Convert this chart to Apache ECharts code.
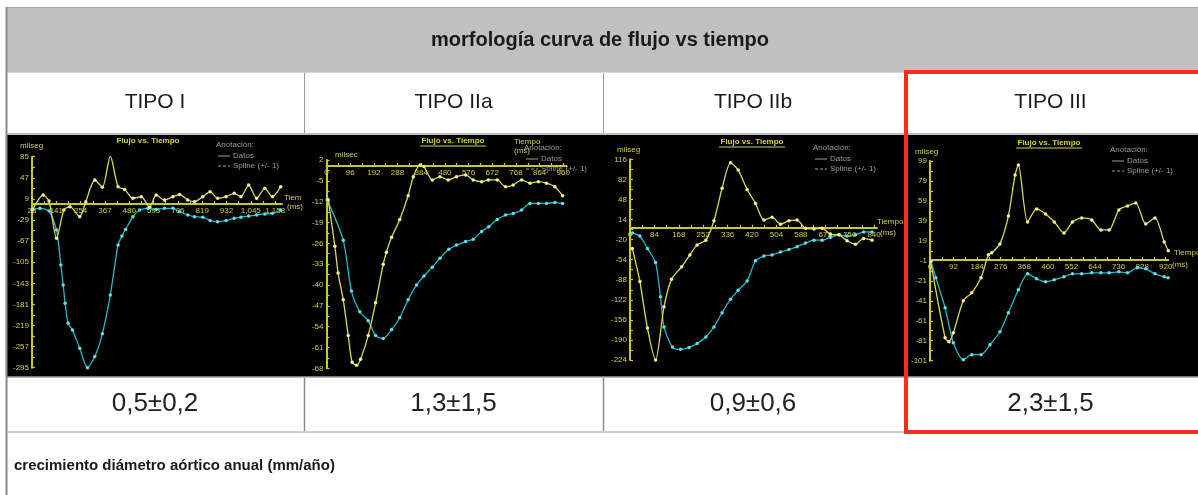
<!DOCTYPE html>
<html>
<head>
<meta charset="utf-8">
<script src="https://cdn.jsdelivr.net/npm/echarts@6/dist/echarts.min.js"></script>
<style>
  html, body { margin: 0; padding: 0; background: #ffffff; }
  #chart { width: 1198px; height: 495px; }
</style>
</head>
<body>
<div id="chart"></div>
<script>
// ---- table text ----
const headerTitle = 'morfología curva de flujo vs tiempo';
const tipoLabels = ['TIPO I', 'TIPO IIa', 'TIPO IIb', 'TIPO III'];
const growthValues = ['0,5±0,2', '1,3±1,5', '0,9±0,6', '2,3±1,5'];
const footerText = 'crecimiento diámetro aórtico anual (mm/año)';

// ---- TIPO I: flujo (mil/seg) vs tiempo (ms) ----
const p1XTicks = [28, 141, 254, 367, 480, 593, 706, 819, 932, 1045, 1158];
const p1YTicks = [85, 47, 9, -29, -67, -105, -143, -181, -219, -257, -295];
const p1YellowT = [30, 80, 107, 142, 176, 204, 250, 278, 320, 355, 392, 428, 459, 497, 536, 575, 605, 644, 683, 714, 752, 783, 822, 856, 891, 930, 968, 999, 1035, 1072, 1110, 1146, 1184];
const p1YellowV = [-11, 16, 5, -62, -11, -5, -23, 4, 43, 30, 86, 31, 26, 10, 13, -6, 16, 7, 13, 17, 7, 4, 13, 22, 10, 13, 19, 13, 34, 10, 28, 13, 31];
const p1CyanT = [30, 65, 107, 142, 162, 173, 182, 196, 216, 250, 286, 320, 355, 392, 428, 446, 463, 497, 528, 567, 605, 644, 683, 714, 752, 783, 822, 856, 891, 930, 968, 999, 1035, 1072, 1110, 1146, 1184];
const p1CyanV = [-10, -8, -13, -47, -110, -146, -179, -215, -227, -260, -295, -275, -234, -164, -74, -58, -46, -23, -11, -8, -10, -8, -8, -14, -20, -23, -24, -30, -32, -30, -26, -24, -22, -20, -18, -17, -11];

// ---- TIPO IIa ----
const p2XTicks = [0, 96, 192, 288, 384, 480, 576, 672, 768, 864, 960];
const p2YTicks = [2, -5, -12, -19, -26, -33, -40, -47, -54, -61, -68];
const p2YellowT = [7, 34, 47, 68, 88, 104, 122, 138, 169, 199, 230, 243, 264, 297, 331, 352, 379, 395, 429, 460, 493, 527, 564, 595, 629, 656, 692, 726, 757, 791, 825, 859, 892, 926, 957];
const p2YellowV = [-11.4, -27, -36, -45, -57, -66, -67, -65, -57, -46, -33, -29, -24, -18, -10, -3.6, 0.3, -0.2, -4.7, -3.6, -4.7, -3.6, -3, -4.7, -5.3, -4.7, -4.7, -7, -6.4, -4.7, -5.8, -5.3, -5.8, -7, -10];
const p2CyanT = [3, 68, 101, 135, 169, 199, 230, 264, 297, 331, 365, 395, 429, 460, 496, 527, 564, 595, 629, 658, 692, 726, 757, 791, 825, 859, 892, 926, 957];
const p2CyanV = [-11.4, -25, -42, -49, -52, -57, -58, -55, -51, -45, -40, -37, -34, -31, -28, -26.6, -25.4, -24.6, -22, -20.4, -18, -16.5, -16, -14.8, -12.6, -12.6, -12.6, -12.3, -12.6];

// ---- TIPO IIb ----
const p3XTicks = [0, 84, 168, 252, 336, 420, 504, 588, 672, 756, 840];
const p3YTicks = [116, 82, 48, 14, -20, -54, -88, -122, -156, -190, -224];
const p3YellowT = [8, 34, 60, 88, 117, 143, 178, 206, 231, 261, 289, 317, 346, 372, 403, 432, 461, 489, 518, 547, 575, 604, 633, 661, 690, 719, 747, 776, 804, 833];
const p3YellowV = [-35, -91, -170, -224, -134, -87, -66, -46, -29, -21, 12, 67, 110, 98, 65, 41, 13, 18, 6, 12, 13, -1, -2, -1, -11, -12, -22, -28, -18, -21];
const p3CyanT = [8, 34, 60, 88, 105, 117, 146, 174, 203, 231, 261, 289, 317, 346, 372, 403, 432, 461, 489, 518, 547, 575, 604, 633, 661, 690, 719, 747, 776, 804, 833];
const p3CyanV = [-9, -14, -35, -59, -117, -168, -202, -206, -203, -196, -185, -168, -144, -121, -106, -90, -56, -48, -46, -41, -37, -32, -26, -21, -21, -16, -12, -14, -12, -7, -7];

// ---- TIPO III ----
const p4XTicks = [0, 92, 184, 276, 368, 460, 552, 644, 736, 828, 920];
const p4YTicks = [99, 79, 59, 39, 19, -1, -21, -41, -61, -81, -101];
const p4YellowT = [3, 59, 74, 91, 130, 163, 199, 228, 241, 273, 306, 332, 345, 381, 416, 451, 485, 523, 556, 592, 631, 667, 699, 737, 771, 803, 842, 878, 914, 930];
const p4YellowV = [-2, -78, -82, -73, -41, -33, -18, 5, 7, 16, 44, 85, 95, 38, 51, 46, 38, 27, 38, 42, 40, 30, 30, 50, 54, 57, 36, 42, 18, 9];
const p4CyanT = [3, 23, 59, 91, 130, 163, 199, 234, 273, 306, 345, 381, 416, 451, 485, 523, 556, 592, 631, 667, 699, 737, 771, 809, 842, 878, 914, 929];
const p4CyanV = [-1, -18, -48, -83, -100, -95, -95, -85, -72, -53, -30, -14, -19, -22, -20, -17, -14, -14, -13, -13, -13, -12, -13, -8, -9, -14, -17, -18];

// ---- styling ----
const FONT = '"Liberation Sans", Arial, Helvetica, sans-serif';
const AXIS_YELLOW = '#c9c63a';
const LABEL_YELLOW = '#d2cd4e';
const LINE_YELLOW = '#dcd85a';
const DOT_YELLOW = '#f4f08c';
const LINE_CYAN = '#2fb6c4';
const DOT_CYAN = '#62dce8';
const LEGEND_GRAY = '#9c9c9c';

const colEdges = [6, 304, 603, 903, 1198];

const panels = [
  { grid: { left: 32, top: 156.7, width: 250, height: 211 }, xMin: 28, xMax: 1190,
    xTicks: p1XTicks, yTicks: p1YTicks, yellow: [p1YellowT, p1YellowV], cyan: [p1CyanT, p1CyanV] },
  { grid: { left: 326.5, top: 160, width: 240, height: 208.3 }, xMin: 0, xMax: 973,
    xTicks: p2XTicks, yTicks: p2YTicks, yellow: [p2YellowT, p2YellowV], cyan: [p2CyanT, p2CyanV] },
  { grid: { left: 630, top: 159.3, width: 247, height: 200.7 }, xMin: 0, xMax: 850,
    xTicks: p3XTicks, yTicks: p3YTicks, yellow: [p3YellowT, p3YellowV], cyan: [p3CyanT, p3CyanV] },
  { grid: { left: 930, top: 161, width: 238.3, height: 199.7 }, xMin: 0, xMax: 930,
    xTicks: p4XTicks, yTicks: p4YTicks, yellow: [p4YellowT, p4YellowV], cyan: [p4CyanT, p4CyanV] }
];

// tick marks at every half step between labelled values
function halfSteps(ticks) {
  const out = [];
  for (let i = 0; i < ticks.length; i++) {
    out.push(ticks[i]);
    if (i < ticks.length - 1) out.push((ticks[i] + ticks[i + 1]) / 2);
  }
  return out;
}
const zip = (t, v) => t.map((x, i) => [x, v[i]]);

const grids = [], xAxes = [], yAxes = [], series = [];
panels.forEach((p, i) => {
  const yMin = p.yTicks[p.yTicks.length - 1], yMax = p.yTicks[0];
  // lift the time axis (line, ticks and labels) up to the flow = 0 level
  const zeroLift = p.grid.height * (0 - yMin) / (yMax - yMin);
  grids.push(Object.assign({ containLabel: false }, p.grid));
  xAxes.push({
    gridIndex: i, type: 'value', min: p.xMin, max: p.xMax, position: 'bottom', offset: -zeroLift,
    axisLine: { onZero: false, lineStyle: { color: AXIS_YELLOW, width: 2 } },
    axisTick: { customValues: halfSteps(p.xTicks), inside: true, length: 3, lineStyle: { color: AXIS_YELLOW, width: 1.2 } },
    axisLabel: { customValues: p.xTicks, color: LABEL_YELLOW, fontSize: 8, margin: 3, fontFamily: FONT, hideOverlap: false },
    splitLine: { show: false }
  });
  yAxes.push({
    gridIndex: i, type: 'value', min: yMin, max: yMax,
    axisLine: { show: true, onZero: false, lineStyle: { color: AXIS_YELLOW, width: 2 } },
    axisTick: { show: true, customValues: halfSteps(p.yTicks), inside: true, length: 3, lineStyle: { color: AXIS_YELLOW, width: 1.2 } },
    axisLabel: { customValues: p.yTicks, color: LABEL_YELLOW, fontSize: 8, margin: 3, fontFamily: FONT, hideOverlap: false },
    splitLine: { show: false }
  });
  series.push({
    type: 'line', xAxisIndex: i, yAxisIndex: i, data: zip(p.cyan[0], p.cyan[1]),
    smooth: 0.25, symbol: 'circle', symbolSize: 3.5, showSymbol: true,
    lineStyle: { color: LINE_CYAN, width: 1.3 }, itemStyle: { color: DOT_CYAN }, z: 3
  });
  series.push({
    type: 'line', xAxisIndex: i, yAxisIndex: i, data: zip(p.yellow[0], p.yellow[1]),
    smooth: 0.25, symbol: 'circle', symbolSize: 3.5, showSymbol: true,
    lineStyle: { color: LINE_YELLOW, width: 1.3 }, itemStyle: { color: DOT_YELLOW }, z: 4
  });
});

// ---- table frame, captions and in-panel annotations ----
const g = [];
const txt = (x, y, text, o) => g.push({
  type: 'text', x, y, z: 50,
  style: Object.assign({ text, fontFamily: FONT, fill: '#1a1a1a', align: 'left', verticalAlign: 'middle' }, o)
});
const line = (x1, y1, x2, y2, stroke, lw, extra) => g.push({
  type: 'line', z: 40, shape: { x1, y1, x2, y2 },
  style: Object.assign({ stroke, lineWidth: lw }, extra || {})
});

// header band and black plot band
g.push({ type: 'rect', z: -10, shape: { x: 6, y: 8, width: 1192, height: 64 }, style: { fill: '#c0c0c0' } });
g.push({ type: 'rect', z: -10, shape: { x: 6, y: 134, width: 1192, height: 243 }, style: { fill: '#020202' } });
line(6, 7.5, 1198, 7.5, '#a8a8a8', 1);
line(6, 72.5, 1198, 72.5, '#d8d8d8', 1);
line(6, 134, 1198, 134, '#bdbdbd', 2);
line(6, 377, 1198, 377, '#a0a0a0', 1.5);
line(6, 432, 1198, 432, '#cfcfcf', 2);
line(6.5, 7, 6.5, 495, '#8a8a8a', 2);
[1, 2].forEach(k => {
  line(colEdges[k] + 0.5, 73, colEdges[k] + 0.5, 133, '#9a9a9a', 1);
  line(colEdges[k] + 0.5, 378, colEdges[k] + 0.5, 431, '#8a8a8a', 1.5);
});

txt(600, 40, headerTitle, { fontSize: 20, fontWeight: 'bold', align: 'center' });
tipoLabels.forEach((t, k) => txt((colEdges[k] + colEdges[k + 1]) / 2, 102, t, { fontSize: 21, align: 'center' }));
growthValues.forEach((t, k) => txt((colEdges[k] + colEdges[k + 1]) / 2, 404, t, { fontSize: 26, align: 'center', fill: '#222' }));
txt(14, 466, footerText, { fontSize: 15, fontWeight: 'bold' });

// highlight frame around TIPO III
g.push({ type: 'rect', z: 60, shape: { x: 906, y: 72, width: 300, height: 360 }, style: { fill: 'none', stroke: '#ff2a1f', lineWidth: 4 } });

// in-panel titles, units and legends
const small = { fontSize: 8 };
const panelText = [
  { title: [148, 141, false], unit: [20, 146, 'milseg'], legend: [216, 145], name: [[284, 198, 'Tiempo'], [287, 207, '(ms)']], clip: 19 },
  { title: [453, 141, true], unit: [335, 155, 'milsec'], legend: [524, 148], name: [[514, 142, 'Tiempo'], [514, 151, '(ms)']] },
  { title: [752, 142, true], unit: [617, 150, 'milseg'], legend: [813, 148], name: [[877, 222, 'Tiempo'], [880, 233, '(ms)']] },
  { title: [1049, 143, true], unit: [915, 152, 'milseg'], legend: [1110, 150], name: [[1174, 253, 'Tiempo'], [1172, 265, '(ms)']] }
];
panelText.forEach(p => {
  const [tx, ty, under] = p.title;
  txt(tx, ty, 'Flujo vs. Tiempo', Object.assign({ align: 'center', fill: '#d6cf3e', fontWeight: 'bold' }, small));
  if (under) line(tx - 33, ty + 5, tx + 33, ty + 5, '#d6cf3e', 1);
  txt(p.unit[0], p.unit[1], p.unit[2], Object.assign({ fill: LABEL_YELLOW }, small));
  const [lx, ly] = p.legend;
  txt(lx, ly, 'Anotación:', Object.assign({ fill: LEGEND_GRAY }, small));
  line(lx + 2, ly + 11, lx + 14, ly + 11, LEGEND_GRAY, 1);
  txt(lx + 17, ly + 11, 'Datos', Object.assign({ fill: LEGEND_GRAY }, small));
  line(lx + 2, ly + 21, lx + 14, ly + 21, LEGEND_GRAY, 1, { lineDash: [3, 2] });
  txt(lx + 17, ly + 21, 'Spline (+/- 1)', Object.assign({ fill: LEGEND_GRAY }, small));
  p.name.forEach(n => txt(n[0], n[1], n[2], Object.assign({ fill: LABEL_YELLOW },
    small, p.clip ? { width: p.clip, overflow: 'truncate', ellipsis: '' } : {})));
});

const chart = echarts.init(document.getElementById('chart'), null, { renderer: 'canvas' });
chart.setOption({
  animation: false,
  backgroundColor: '#ffffff',
  grid: grids,
  xAxis: xAxes,
  yAxis: yAxes,
  series: series,
  graphic: { elements: g }
});
</script>
</body>
</html>
